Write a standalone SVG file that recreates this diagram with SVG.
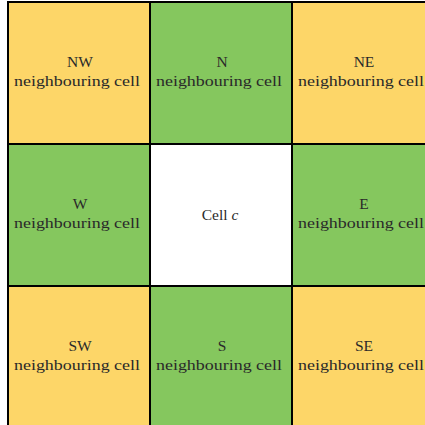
<svg xmlns="http://www.w3.org/2000/svg" width="425" height="425" viewBox="0 0 425 425">
  <style>
    .yel { fill: #fdd668; stroke: #000; stroke-width: 2; }
    .grn { fill: #85c75e; stroke: #000; stroke-width: 2; }
    .wht { fill: #fff; stroke: #000; stroke-width: 2; }
    text { font-family: "Liberation Serif", "DejaVu Serif", serif; font-size: 15.5px; fill: #2a2a2a; text-anchor: middle; }
  </style>
  <rect width="425" height="425" fill="#fff"/>
  <g id="nw"><rect class="yel" x="8" y="2" width="142" height="142"/><text x="80" y="67">NW</text><text x="77" y="86" textLength="126" lengthAdjust="spacingAndGlyphs">neighbouring cell</text></g>
  <g id="n"><rect class="grn" x="150" y="2" width="142" height="142"/><text x="222" y="67">N</text><text x="219" y="86" textLength="126" lengthAdjust="spacingAndGlyphs">neighbouring cell</text></g>
  <g id="ne"><rect class="yel" x="292" y="2" width="142" height="142"/><text x="364" y="67">NE</text><text x="361" y="86" textLength="126" lengthAdjust="spacingAndGlyphs">neighbouring cell</text></g>
  <g id="w"><rect class="grn" x="8" y="144" width="142" height="142"/><text x="80" y="209">W</text><text x="77" y="228" textLength="126" lengthAdjust="spacingAndGlyphs">neighbouring cell</text></g>
  <g id="c"><rect class="wht" x="150" y="144" width="142" height="142"/><text x="220" y="220">Cell <tspan font-style="italic">c</tspan></text></g>
  <g id="e"><rect class="grn" x="292" y="144" width="142" height="142"/><text x="364" y="209">E</text><text x="361" y="228" textLength="126" lengthAdjust="spacingAndGlyphs">neighbouring cell</text></g>
  <g id="sw"><rect class="yel" x="8" y="286" width="142" height="142"/><text x="80" y="351">SW</text><text x="77" y="370" textLength="126" lengthAdjust="spacingAndGlyphs">neighbouring cell</text></g>
  <g id="s"><rect class="grn" x="150" y="286" width="142" height="142"/><text x="222" y="351">S</text><text x="219" y="370" textLength="126" lengthAdjust="spacingAndGlyphs">neighbouring cell</text></g>
  <g id="se"><rect class="yel" x="292" y="286" width="142" height="142"/><text x="364" y="351">SE</text><text x="361" y="370" textLength="126" lengthAdjust="spacingAndGlyphs">neighbouring cell</text></g>
  <g id="connectors"></g>
</svg>
